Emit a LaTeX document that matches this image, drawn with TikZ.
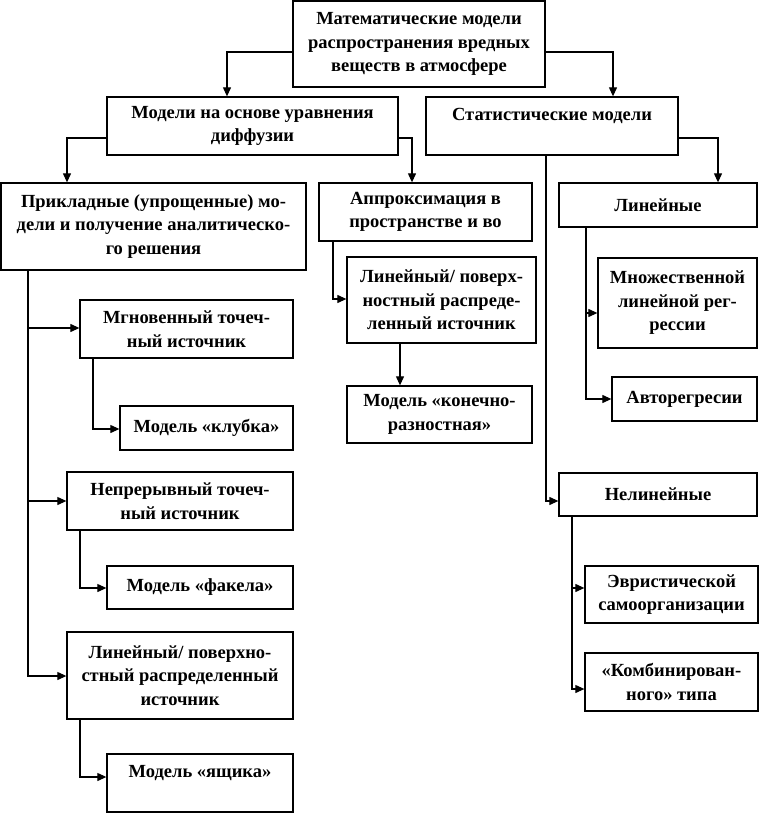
\documentclass[tikz,border=0pt]{standalone}
\usepackage{fontspec}
\setmainfont{Liberation Serif}
\usetikzlibrary{arrows.meta}
\begin{document}
\begin{tikzpicture}[x=1pt,y=-1pt,
  box/.style={draw,line width=1.3pt,rectangle,inner sep=0pt,align=center,
    font=\bfseries\fontsize{18.5}{23.5}\selectfont},
  arr/.style={line width=1.1pt,-{Triangle[length=9pt,width=8pt]}},
  ln/.style={line width=1.1pt}]
\useasboundingbox (0,0) rectangle (759,813);
\node[box,minimum width=252,minimum height=86] (top) at (419,44) {Математические модели\\распространения вредных\\веществ в атмосфере};
\node[box,minimum width=291,minimum height=58] (diff) at (252.5,126) {Модели на основе уравнения\\диффузии};
\node[box,minimum width=252,minimum height=58] (stat) at (552,126) {Статистические модели\\\mbox{}};
\node[box,minimum width=305,minimum height=87] (prik) at (153.5,226.5) {Прикладные (упрощенные) мо-\\дели и получение аналитическо-\\го решения};
\node[box,minimum width=213,minimum height=58] (approx) at (425.5,212) {Аппроксимация в\\пространстве и во};
\node[box,minimum width=189,minimum height=86] (linmid) at (441.5,300) {Линейный/ поверх-\\ностный распреде-\\ленный источник};
\node[box,minimum width=185,minimum height=57] (konech) at (439.5,414.5) {Модель «конечно-\\разностная»};
\node[box,minimum width=198,minimum height=44] (lin) at (658,205) {Линейные};
\node[box,minimum width=159,minimum height=90] (mnozh) at (677.5,303) {Множественной\\линейной рег-\\рессии};
\node[box,minimum width=145,minimum height=44] (avto) at (684.5,399) {Авторегресии};
\node[box,minimum width=198,minimum height=43] (nelin) at (658,494.5) {Нелинейные};
\node[box,minimum width=173,minimum height=57] (evr) at (671.5,594.5) {Эвристической\\самоорганизации};
\node[box,minimum width=173,minimum height=58] (komb) at (671.5,682) {«Комбинирован-\\ного» типа};
\node[box,minimum width=213,minimum height=58] (mgn) at (186.5,329) {Мгновенный точеч-\\ный источник};
\node[box,minimum width=173,minimum height=44] (klub) at (206.5,428) {Модель «клубка»};
\node[box,minimum width=226,minimum height=58] (nepr) at (180,501) {Непрерывный точеч-\\ный источник};
\node[box,minimum width=186,minimum height=43] (fakel) at (200,587.5) {Модель «факела»};
\node[box,minimum width=226,minimum height=87] (linleft) at (180,675.5) {Линейный/ поверхно-\\стный распределенный\\источник};
\node[box,minimum width=186,minimum height=58] (yasch) at (200,783) {Модель «ящика»\\\mbox{}};

\draw[arr] (top.west |- 0,52) -| (227,0 |- diff.north);
\draw[arr] (top.east |- 0,52) -| (613,0 |- stat.north);
\draw[arr] (diff.west |- 0,138) -| (67,0 |- prik.north);
\draw[arr] (diff.east |- 0,138) -| (412,0 |- approx.north);
\draw[arr] (stat.east |- 0,138) -| (718,0 |- lin.north);
\draw[arr] (546,0 |- stat.south) |- (nelin.west |- 0,501);
\draw[arr] (28,0 |- prik.south) |- (mgn.west |- 0,328);
\draw[arr] (28,0 |- prik.south) |- (nepr.west |- 0,501);
\draw[arr] (28,0 |- prik.south) |- (linleft.west |- 0,676);
\draw[arr] (93,0 |- mgn.south) |- (klub.west |- 0,429);
\draw[arr] (80,0 |- nepr.south) |- (fakel.west |- 0,588);
\draw[arr] (80,0 |- linleft.south) |- (yasch.west |- 0,777);
\draw[arr] (333,0 |- approx.south) |- (linmid.west |- 0,299);
\draw[arr] (400,0 |- linmid.south) -- (400,0 |- konech.north);
\draw[arr] (586,0 |- lin.south) |- (mnozh.west |- 0,313);
\draw[arr] (586,0 |- lin.south) |- (avto.west |- 0,399);
\draw[arr] (572,0 |- nelin.south) |- (evr.west |- 0,588);
\draw[arr] (572,0 |- nelin.south) |- (komb.west |- 0,689);
\end{tikzpicture}
\end{document}
